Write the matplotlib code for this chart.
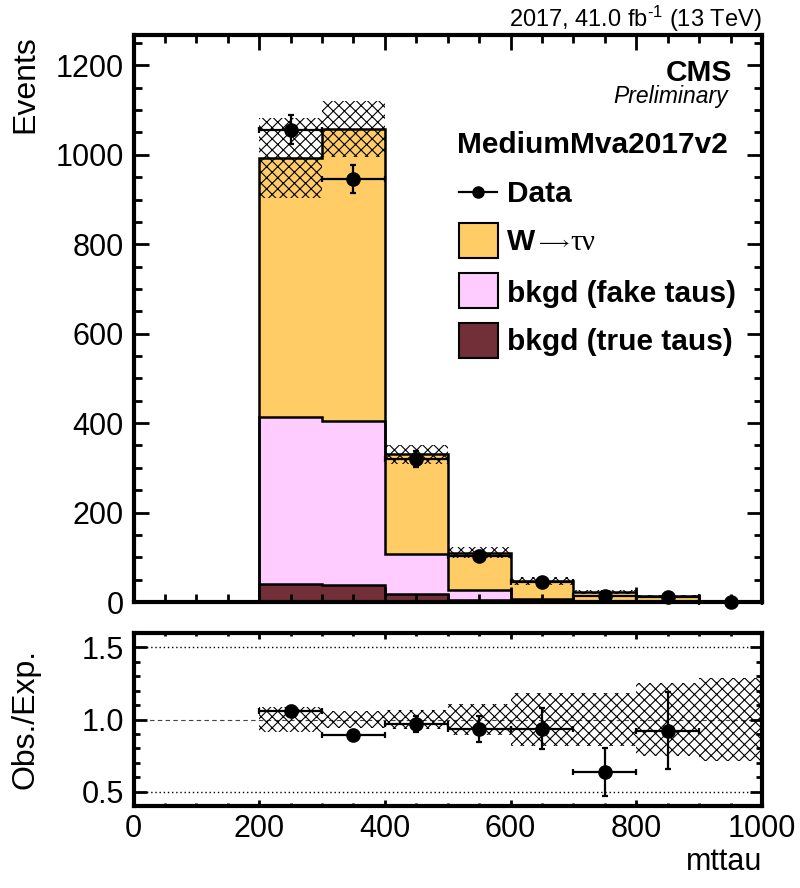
import numpy as np
import matplotlib
matplotlib.use("Agg")
import matplotlib.pyplot as plt
from matplotlib.patches import Rectangle
from matplotlib.lines import Line2D
from matplotlib.ticker import MultipleLocator

plt.rcParams['font.family'] = ['Liberation Sans', 'DejaVu Sans']
plt.rcParams['mathtext.fontset'] = 'custom'
plt.rcParams['mathtext.rm'] = 'Liberation Sans'
plt.rcParams['mathtext.it'] = 'Liberation Sans:italic'
plt.rcParams['mathtext.bf'] = 'Liberation Sans:bold'
plt.rcParams['hatch.linewidth'] = 0.8

# ---------------- data ----------------
bin_edges = [0, 100, 200, 300, 400, 500, 600, 700, 800, 900, 1000]
true_taus = [0, 0, 41, 39, 19, 5, 2, 1, 0.5, 0.1]
fake_taus = [0, 0, 372, 365, 89, 21, 4, 2, 1, 0.3]
w_taunu = [0, 0, 581, 653, 222, 84, 41, 19, 11.5, 1.6]
# observed data (bins 200..1000)
data_centers = [250, 350, 450, 550, 650, 750, 850, 950]
data_counts = [1056, 946, 319, 103, 44, 14, 12, 0]
data_err = [32, 31, 18, 10, 6.6, 3.7, 3.5, 0]
# relative uncertainty on expectation (bins 200..1000)
rel_unc = [0.09, 0.059, 0.065, 0.11, 0.185, 0.185, 0.25, 0.29]

x_ticks = [0, 200, 400, 600, 800, 1000]
y_ticks = [0, 200, 400, 600, 800, 1000, 1200]
r_ticks = [0.5, 1.0, 1.5]

c_w = '#FFCC66'
c_fake = '#FFCCFF'
c_true = '#722F37'

edges = np.array(bin_edges, dtype=float)
t = np.array(true_taus)
f = np.array(fake_taus)
w = np.array(w_taunu)
s_true = t
s_fake = t + f
s_tot = t + f + w

W, H = 800, 888
fig = plt.figure(figsize=(W / 100, H / 100), dpi=100)
L, R = 133.5, 762
ax = fig.add_axes([L / W, 1 - 602 / H, (R - L) / W, (602 - 35) / H])
rax = fig.add_axes([L / W, 1 - 806 / H, (R - L) / W, (806 - 633) / H])

HATCH = 'xxx'

# ---------------- main panel ----------------
for top, col in [(s_tot, c_w), (s_fake, c_fake), (s_true, c_true)]:
    ax.stairs(top, edges, baseline=0, fill=True, color=col, lw=0, zorder=1)
    ax.stairs(top, edges, baseline=0, fill=False, color='black', lw=1.8, zorder=2)

tot_sel = s_tot[2:]
ru = np.array(rel_unc)
ax.stairs(tot_sel * (1 + ru), edges[2:], baseline=tot_sel * (1 - ru), fill=True,
          facecolor='none', edgecolor='black', lw=0, hatch=HATCH, zorder=3)

dc = np.array(data_counts, dtype=float)
de = np.array(data_err)
ax.errorbar(data_centers, dc, yerr=de, xerr=50, fmt='o', color='black', ms=9.5,
            elinewidth=1.6, capsize=2.2, capthick=1.6, zorder=5, clip_on=False)

ax.set_xlim(0, 1000)
ax.set_ylim(0, 1268)
ax.set_xticks(x_ticks)
ax.set_yticks(y_ticks)
ax.xaxis.set_minor_locator(MultipleLocator(50))
ax.yaxis.set_minor_locator(MultipleLocator(50))
ax.tick_params(axis='both', which='both', direction='in', top=True, right=True, width=2)
ax.tick_params(axis='both', which='major', length=11)
ax.tick_params(axis='both', which='minor', length=5.5)
ax.tick_params(axis='y', labelsize=22, pad=7)
ax.tick_params(axis='x', labelbottom=False)
for sp in ax.spines.values():
    sp.set_linewidth(3)

# ---------------- ratio panel ----------------
rax.stairs(1 + ru, edges[2:], baseline=1 - ru, fill=True, facecolor='none',
           edgecolor='black', lw=0, hatch=HATCH, zorder=2)
rax.axhline(1.5, color='black', lw=1, ls=(0, (1, 2)), zorder=1)
rax.axhline(0.5, color='black', lw=1, ls=(0, (1, 2)), zorder=1)
rax.axhline(1.0, color='#444444', lw=0.8, ls=(0, (4, 3)), zorder=1)
mask = dc > 0
ratio = dc[mask] / tot_sel[mask]
ratio_err = de[mask] / tot_sel[mask]
rax.errorbar(np.array(data_centers)[mask], ratio, yerr=ratio_err, xerr=50, fmt='o',
             color='black', ms=9.5, elinewidth=1.6, capsize=2.2, capthick=1.6, zorder=5)
rax.set_xlim(0, 1000)
rax.set_ylim(0.4, 1.6)
rax.set_xticks(x_ticks)
rax.set_yticks(r_ticks)
rax.set_yticklabels(['0.5', '1.0', '1.5'])
rax.xaxis.set_minor_locator(MultipleLocator(50))
rax.yaxis.set_minor_locator(MultipleLocator(0.1))
rax.tick_params(axis='both', which='both', direction='in', top=True, right=True, width=2)
rax.tick_params(axis='y', which='major', length=9)
rax.tick_params(axis='y', which='minor', length=4.5)
rax.tick_params(axis='x', which='major', length=4)
rax.tick_params(axis='x', which='minor', length=2.5)
rax.tick_params(axis='both', labelsize=22)
rax.tick_params(axis='y', pad=7)
rax.tick_params(axis='x', pad=6)
for sp in rax.spines.values():
    sp.set_linewidth(3)

# ---------------- texts ----------------
def fx(px):
    return px / W

def fy(py):
    return 1 - py / H

fig.text(fx(25), fy(35), 'Events', rotation=90, ha='center', va='top', fontsize=23)
fig.text(fx(26), fy(719), 'Obs./Exp.', rotation=90, ha='center', va='center', fontsize=23)
fig.text(fx(762), fy(862), 'mttau', ha='right', va='center', fontsize=22)
fig.text(fx(762), fy(27), r'2017, 41.0 fb$^{\text{-}1}$ (13 TeV)', ha='right', va='baseline', fontsize=17)
fig.text(fx(732), fy(81), 'CMS', ha='right', va='baseline', fontsize=21.5, fontweight='bold')
fig.text(fx(728), fy(103), 'Preliminary', ha='right', va='baseline', fontsize=16.5, style='italic')

# legend (manual)
fig.text(fx(457), fy(153), 'MediumMva2017v2', ha='left', va='baseline', fontsize=21.5, fontweight='bold')
fig.add_artist(Line2D([fx(459), fx(497)], [fy(192), fy(192)], color='black', lw=1.6))
fig.add_artist(Line2D([fx(478)], [fy(192)], color='black', marker='o', ms=8, lw=0))
fig.text(fx(507), fy(202), 'Data', ha='left', va='baseline', fontsize=21.5, fontweight='bold')

boxes = [(223, c_w), (273, c_fake), (323, c_true)]
for top_px, col in boxes:
    fig.add_artist(Rectangle((fx(459), fy(top_px + 35)), (498 - 459) / W, 35 / H,
                             facecolor=col, edgecolor='black', lw=1.5,
                             transform=fig.transFigure))

tw = fig.text(fx(507), fy(250), 'W', ha='left', va='baseline', fontsize=21.5, fontweight='bold')
fig.canvas.draw()
bb = tw.get_window_extent()
ta = fig.text((bb.x1 + 1) / W, fy(248), r'$\longrightarrow$', ha='left', va='baseline', fontsize=14,
              math_fontfamily='stix')
fig.canvas.draw()
bb2 = ta.get_window_extent()
fig.text((bb2.x1) / W, fy(250), '\u03c4\u03bd', ha='left', va='baseline', fontsize=21,
         family=['Liberation Serif', 'DejaVu Serif'])
fig.text(fx(507), fy(302), 'bkgd (fake taus)', ha='left', va='baseline', fontsize=21.5, fontweight='bold')
fig.text(fx(507), fy(350), 'bkgd (true taus)', ha='left', va='baseline', fontsize=21.5, fontweight='bold')

fig.savefig('out.png', dpi=100)
